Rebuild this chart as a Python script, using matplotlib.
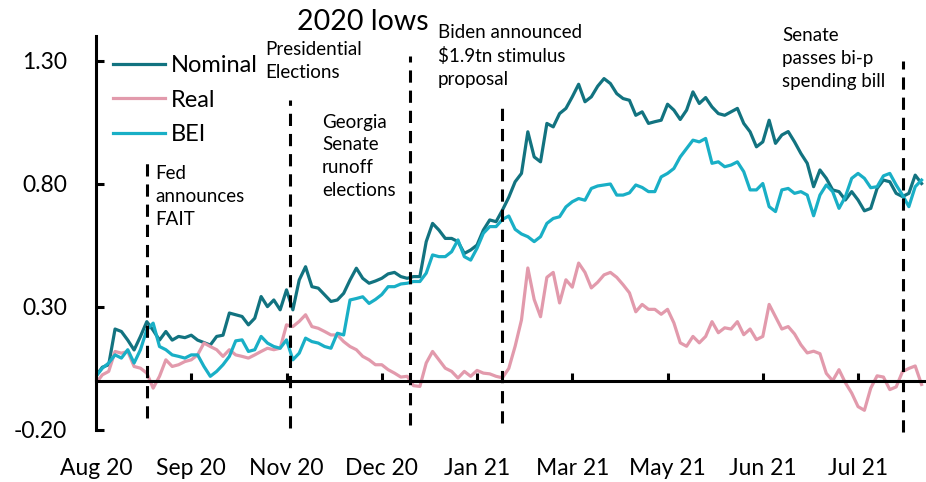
import numpy as np
import matplotlib.pyplot as plt

plt.rcParams['font.family'] = ['Lato', 'DejaVu Sans']

# Daily-ish series (pp), one value per trading step
nominal = [
    0.02, 0.055, 0.065, 0.21, 0.20, 0.165, 0.125, 0.18, 0.24, 0.205,
    0.165, 0.20, 0.165, 0.18, 0.175, 0.185, 0.165, 0.155, 0.145, 0.18,
    0.185, 0.275, 0.268, 0.261, 0.227, 0.254, 0.342, 0.301, 0.328, 0.288,
    0.369, 0.288, 0.409, 0.463, 0.382, 0.376, 0.349, 0.322, 0.328, 0.355,
    0.409, 0.457, 0.416, 0.396, 0.405, 0.416, 0.434, 0.44, 0.423, 0.416,
    0.423, 0.423, 0.565, 0.639, 0.612, 0.578, 0.578, 0.565, 0.517, 0.531,
    0.551, 0.612, 0.653, 0.646, 0.693, 0.745, 0.808, 0.842, 1.011, 0.909,
    0.889, 1.045, 1.031, 1.085, 1.106, 1.153, 1.204, 1.133, 1.153, 1.196,
    1.227, 1.207, 1.166, 1.146, 1.139, 1.078, 1.092, 1.045, 1.052, 1.058,
    1.123, 1.099, 1.061, 1.099, 1.173, 1.126, 1.15, 1.112, 1.085, 1.078,
    1.092, 1.106, 1.045, 1.011, 0.95, 0.97, 1.058, 0.964, 0.998, 1.012,
    0.97, 0.923, 0.883, 0.788, 0.856, 0.822, 0.775, 0.768, 0.734, 0.768,
    0.734, 0.69, 0.70, 0.781, 0.815, 0.808, 0.761, 0.748, 0.761, 0.835,
    0.801,
]
real = [
    -0.01, 0.024, 0.038, 0.119, 0.112, 0.119, 0.058, 0.051, 0.031, -0.03,
    0.018, 0.085, 0.058, 0.065, 0.078, 0.085, 0.105, 0.153, 0.139, 0.126,
    0.099, 0.126, 0.105, 0.099, 0.092, 0.105, 0.119, 0.132, 0.126, 0.132,
    0.227, 0.22, 0.241, 0.268, 0.22, 0.213, 0.2, 0.186, 0.186, 0.159,
    0.139, 0.126, 0.099, 0.085, 0.065, 0.065, 0.045, 0.031, 0.015, 0.018,
    -0.02, -0.023, 0.072, 0.119, 0.085, 0.051, 0.038, 0.011, 0.038, 0.018,
    0.042, 0.031, 0.028, 0.018, 0.012, 0.05, 0.14, 0.247, 0.458, 0.33,
    0.26, 0.42, 0.44, 0.316, 0.41, 0.38, 0.478, 0.44, 0.377, 0.40,
    0.43, 0.44, 0.42, 0.39, 0.357, 0.28, 0.31, 0.29, 0.29, 0.27,
    0.29, 0.235, 0.154, 0.14, 0.18, 0.154, 0.18, 0.24, 0.195, 0.215,
    0.21, 0.24, 0.187, 0.21, 0.167, 0.18, 0.31, 0.26, 0.21, 0.22,
    0.19, 0.146, 0.113, 0.12, 0.11, 0.03, 0.0, 0.045, -0.008, -0.05,
    -0.105, -0.12, -0.03, 0.02, 0.015, -0.036, -0.025, 0.037, 0.05, 0.06,
    -0.015,
]
bei = [
    0.018, 0.051, 0.072, 0.105, 0.092, 0.126, 0.072, 0.126, 0.207, 0.234,
    0.139, 0.126, 0.105, 0.099, 0.092, 0.105, 0.105, 0.058, 0.018, 0.038,
    0.065, 0.099, 0.162, 0.166, 0.119, 0.126, 0.18, 0.153, 0.139, 0.132,
    0.166, 0.085, 0.112, 0.173, 0.159, 0.153, 0.139, 0.132, 0.193, 0.186,
    0.328, 0.334, 0.341, 0.314, 0.33, 0.35, 0.382, 0.382, 0.393, 0.396,
    0.403, 0.403, 0.437, 0.511, 0.504, 0.504, 0.524, 0.572, 0.504, 0.49,
    0.538, 0.599, 0.626, 0.626, 0.655, 0.669, 0.615, 0.596, 0.585, 0.565,
    0.585, 0.639, 0.659, 0.666, 0.706, 0.727, 0.74, 0.733, 0.781, 0.791,
    0.795, 0.799, 0.754, 0.754, 0.763, 0.795, 0.785, 0.768, 0.768, 0.828,
    0.842, 0.862, 0.909, 0.943, 0.977, 0.97, 0.984, 0.883, 0.889, 0.869,
    0.876, 0.889, 0.849, 0.775, 0.775, 0.801, 0.707, 0.687, 0.775, 0.781,
    0.761, 0.768, 0.754, 0.67, 0.754, 0.795, 0.768, 0.70, 0.747, 0.822,
    0.842, 0.822, 0.784, 0.788, 0.832, 0.842, 0.795, 0.754, 0.707, 0.788,
    0.815,
]

tick_step = 15
tick_labels = ['Aug 20', 'Sep 20', 'Nov 20', 'Dec 20', 'Jan 21',
               'Mar 21', 'May 21', 'Jun 21', 'Jul 21']

# event markers: position in steps, dashed line extent
events = [8, 30.5, 49.5, 64, 127]
event_top = [0.90, 1.14, 1.32, 1.13, 1.30]
event_bottom = [-0.15, -0.19, -0.18, -0.17, -0.21]
event_text = ['Fed\nannounces\nFAIT',
              'Presidential\nElections',
              'Georgia\nSenate\nrunoff\nelections',
              'Biden announced\n$1.9tn stimulus\nproposal',
              'Senate\npasses bi-p\nspending bill']
text_pos = [(9.3, 0.875), (26.7, 1.38), (35.6, 1.085), (53.8, 1.45), (108.1, 1.435)]

c_nom = '#127380'
c_real = '#E29AAC'
c_bei = '#19AFC6'

x = np.arange(len(nominal))

fig = plt.figure(figsize=(9.26, 4.82), dpi=100)
ax = fig.add_axes([96 / 926, 1 - 430 / 482, 830 / 926, 394 / 482])

ax.plot(x, nominal, color=c_nom, lw=2.3, label='Nominal')
ax.plot(x, real, color=c_real, lw=2.3, label='Real')
ax.plot(x, bei, color=c_bei, lw=2.3, label='BEI')

for ev, top, bot in zip(events, event_top, event_bottom):
    ax.plot([ev, ev], [bot, top], color='black', lw=2.2,
            linestyle=(0, (4, 2.6)), clip_on=False)

for (tx, ty), txt in zip(text_pos, event_text):
    ax.text(tx, ty, txt, fontsize=13.5, va='top', ha='left',
            linespacing=1.42, clip_on=False)

ax.text(31.6, 1.51, '2020 lows', fontsize=20.5, va='top', ha='left', clip_on=False)

ax.set_xlim(0, 130.7)
ax.set_ylim(-0.2, 1.4)

for s in ['top', 'right']:
    ax.spines[s].set_visible(False)
ax.spines['bottom'].set_position(('data', 0))
ax.spines['bottom'].set_linewidth(2.2)
ax.spines['left'].set_linewidth(2.2)

ticks = np.arange(len(tick_labels)) * tick_step
ax.set_xticks(ticks)
ax.tick_params(axis='x', direction='in', length=5.5, width=2.2, labelbottom=False)

ax.set_yticks([-0.2, 0.3, 0.8, 1.3])
ax.set_yticklabels(['-0.20', '0.30', '0.80', '1.30'])
ax.tick_params(axis='y', direction='in', length=5.5, width=2.2, labelsize=16.5, pad=21)

# month labels sit below the plot, not under the zero line
sec = ax.secondary_xaxis('bottom')
sec.set_xticks(ticks)
sec.set_xticklabels(tick_labels)
sec.spines['bottom'].set_visible(False)
sec.tick_params(axis='x', length=0, labelsize=16.5, pad=20)

ax.legend(loc='upper left', bbox_to_anchor=(0.02, 0.952), frameon=False,
          fontsize=17, handlelength=2.2, handletextpad=0.25,
          labelspacing=0.58, borderaxespad=0, borderpad=0)

fig.savefig('out.png', dpi=100)
